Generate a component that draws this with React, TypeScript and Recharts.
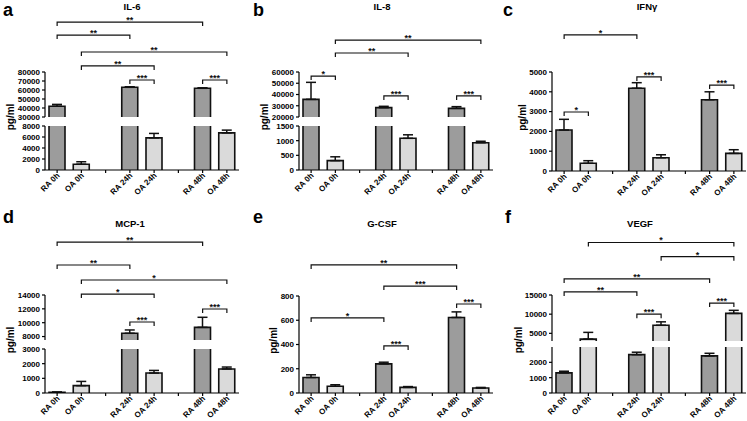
import { BarChart, Bar, XAxis, YAxis, ErrorBar, Cell, ReferenceLine } from "recharts"

const FONT = "'Liberation Sans', Arial, Helvetica, sans-serif"

// x slots: two empty slots separate the time points
const categories = ["RA 0h", "OA 0h", "gap1", "RA 24h", "OA 24h", "gap2", "RA 48h", "OA 48h"]
const groups = ["RA 0h", "OA 0h", "RA 24h", "OA 24h", "RA 48h", "OA 48h"]

const il6Values = [42000, 1050, 63000, 5850, 61900, 6750]
const il6Errors = [2000, 450, 600, 800, 500, 500]
const il8Values = [35700, 320, 28300, 1080, 27700, 930]
const il8Errors = [15100, 130, 1200, 120, 1500, 50]
const ifngValues = [2070, 390, 4180, 670, 3600, 890]
const ifngErrors = [540, 130, 280, 150, 400, 185]
const mcp1Values = [50, 500, 8470, 1360, 9330, 1640]
const mcp1Errors = [20, 290, 480, 180, 1450, 130]
const gcsfValues = [128, 56, 240, 46, 623, 41]
const gcsfErrors = [22, 12, 14, 7, 46, 5]
const vegfValues = [1310, 3500, 2500, 7100, 2420, 10200]
const vegfErrors = [110, 1750, 160, 900, 170, 800]

// [from, to, level (axis units), stars]
type Bracket = [string, string, number, string]
const il6Brackets: Bracket[] = [
  ["RA 0h", "RA 48h", 135500, "**"],
  ["RA 0h", "RA 24h", 121000, "**"],
  ["OA 0h", "OA 48h", 102200, "**"],
  ["OA 0h", "OA 24h", 86700, "**"],
  ["RA 24h", "OA 24h", 71100, "***"],
  ["RA 48h", "OA 48h", 71100, "***"],
]
const il8Brackets: Bracket[] = [
  ["OA 0h", "OA 48h", 88400, "**"],
  ["OA 0h", "OA 24h", 76900, "**"],
  ["RA 0h", "OA 0h", 56400, "*"],
  ["RA 24h", "OA 24h", 38700, "***"],
  ["RA 48h", "OA 48h", 38700, "***"],
]
const ifngBrackets: Bracket[] = [
  ["RA 0h", "RA 24h", 6870, "*"],
  ["RA 24h", "OA 24h", 4750, "***"],
  ["RA 48h", "OA 48h", 4340, "***"],
  ["RA 0h", "OA 0h", 2980, "*"],
]
const mcp1Brackets: Bracket[] = [
  ["RA 0h", "RA 48h", 21650, "**"],
  ["RA 0h", "RA 24h", 18330, "**"],
  ["OA 0h", "OA 48h", 16170, "*"],
  ["OA 0h", "OA 24h", 14140, "*"],
  ["RA 48h", "OA 48h", 11980, "***"],
  ["RA 24h", "OA 24h", 10100, "***"],
]
const gcsfBrackets: Bracket[] = [
  ["RA 0h", "RA 48h", 1056, "**"],
  ["RA 24h", "RA 48h", 882, "***"],
  ["RA 48h", "OA 48h", 734, "***"],
  ["RA 0h", "RA 24h", 619, "*"],
  ["RA 24h", "OA 24h", 388, "***"],
]
const vegfBrackets: Bracket[] = [
  ["OA 0h", "OA 48h", 28700, "*"],
  ["OA 24h", "OA 48h", 25000, "*"],
  ["RA 0h", "RA 48h", 19200, "**"],
  ["RA 0h", "RA 24h", 15800, "**"],
  ["RA 48h", "OA 48h", 12900, "***"],
  ["RA 24h", "OA 24h", 10000, "***"],
]

type Segment = { domain: [number, number]; ticks: number[]; top: number; bottom: number }

interface PanelSpec {
  letter: string
  letterX: number
  title: string
  titleX: number
  row: number
  axisX: number
  labelX: number
  values: number[]
  errors: number[]
  brackets: Bracket[]
  segments: Segment[]
}

const rowLayout = [
  { letterY: 16, titleY: 10, svgTop: 10 },
  { letterY: 223, titleY: 227, svgTop: 230 },
]

const panels: PanelSpec[] = [
  {
    letter: "a", letterX: 3, title: "IL-6", titleX: 132, row: 0, axisX: 45, labelX: 10,
    values: il6Values, errors: il6Errors, brackets: il6Brackets,
    segments: [
      { domain: [30000, 80000], ticks: [30000, 40000, 50000, 60000, 70000, 80000], top: 72, bottom: 117 },
      { domain: [0, 8000], ticks: [0, 2000, 4000, 6000, 8000], top: 126, bottom: 170 },
    ],
  },
  {
    letter: "b", letterX: 253, title: "IL-8", titleX: 382, row: 0, axisX: 299, labelX: 264,
    values: il8Values, errors: il8Errors, brackets: il8Brackets,
    segments: [
      { domain: [20000, 60000], ticks: [20000, 30000, 40000, 50000, 60000], top: 72, bottom: 117 },
      { domain: [0, 1500], ticks: [0, 500, 1000, 1500], top: 126, bottom: 170 },
    ],
  },
  {
    letter: "c", letterX: 503, title: "IFNγ", titleX: 647, row: 0, axisX: 552, labelX: 522,
    values: ifngValues, errors: ifngErrors, brackets: ifngBrackets,
    segments: [{ domain: [0, 5000], ticks: [0, 1000, 2000, 3000, 4000, 5000], top: 72, bottom: 171 }],
  },
  {
    letter: "d", letterX: 3, title: "MCP-1", titleX: 130, row: 1, axisX: 45, labelX: 10,
    values: mcp1Values, errors: mcp1Errors, brackets: mcp1Brackets,
    segments: [
      { domain: [7500, 14000], ticks: [8000, 10000, 12000, 14000], top: 295, bottom: 340 },
      { domain: [0, 3000], ticks: [0, 1000, 2000, 3000], top: 349, bottom: 393 },
    ],
  },
  {
    letter: "e", letterX: 253, title: "G-CSF", titleX: 382, row: 1, axisX: 299, labelX: 273,
    values: gcsfValues, errors: gcsfErrors, brackets: gcsfBrackets,
    segments: [{ domain: [0, 800], ticks: [0, 200, 400, 600, 800], top: 296, bottom: 393 }],
  },
  {
    letter: "f", letterX: 505, title: "VEGF", titleX: 640, row: 1, axisX: 552, labelX: 518,
    values: vegfValues, errors: vegfErrors, brackets: vegfBrackets,
    segments: [
      { domain: [3000, 15000], ticks: [5000, 10000, 15000], top: 295, bottom: 341 },
      { domain: [0, 3000], ticks: [0, 1000, 2000], top: 347, bottom: 393 },
    ],
  },
]

const bracketShape = (stars: string) => (props: any) => {
  const { x1, y1, x2 } = props
  return (
    <g>
      <path d={`M${x1},${y1 + 4}V${y1}H${x2}V${y1 + 4}`} fill="none" stroke="#111" strokeWidth={1.2} />
      <text x={(x1 + x2) / 2} y={y1 + 1} textAnchor="middle" fontSize={9} fontWeight="bold" fontFamily={FONT} fill="#111">
        {stars}
      </text>
    </g>
  )
}

// bar with an open base, so a broken axis shows no line at the cut
const openBar = (seg: Segment) => (props: any) => {
  const { x, y, width, height, payload } = props
  if (x == null || y == null || !height || payload?.v == null || payload.v < seg.domain[0]) return <g />
  const top = Math.min(y, y + height)
  const bottom = Math.max(y, y + height)
  const fill = String(payload.name).startsWith("RA") ? "#9c9c9c" : "#dadada"
  return (
    <g>
      <rect x={x} y={top} width={width} height={bottom - top} fill={fill} />
      <path d={`M${x},${bottom}V${top}H${x + width}V${bottom}`} fill="none" stroke="#111" strokeWidth={1.6} />
    </g>
  )
}

const XTick = (props: any) => {
  const { x, y, payload } = props
  if (String(payload.value).startsWith("gap")) return <g />
  const ax = x + 3
  const ay = y + 1
  return (
    <text x={ax} y={ay} transform={`rotate(-45 ${ax} ${ay})`} textAnchor="end" fontSize={8} fontWeight="bold" fontFamily={FONT} fill="#000">
      {payload.value}
    </text>
  )
}

function Panel({ spec }: { spec: PanelSpec }) {
  const layout = rowLayout[spec.row]
  const plotW = 194
  const yW = 42

  return (
    <>
      {spec.segments.map((seg, i) => {
        // error bars are not clipped, so only keep those whose bar reaches this segment
        const rows = categories.map((c) => {
          const k = groups.indexOf(c)
          if (k < 0) return { name: c }
          const v = spec.values[k]
          const e = spec.errors[k]
          const visible = v + e >= seg.domain[0] && v <= seg.domain[1]
          return { name: c, v, err: visible ? [0, e] : null }
        })
        const first = i === 0
        const last = i === spec.segments.length - 1
        const svgTop = first ? layout.svgTop : seg.top - 6
        const marginTop = seg.top - svgTop
        const plotH = seg.bottom - seg.top
        const xAxisH = 32
        const marginBottom = last ? 0 : 6
        const height = marginTop + plotH + (last ? xAxisH : marginBottom)
        return (
          <div key={i} style={{ position: "absolute", left: spec.axisX - yW, top: svgTop }}>
            <BarChart
              width={yW + plotW + 2}
              height={height}
              data={rows}
              margin={{ top: marginTop, right: 2, left: 0, bottom: marginBottom }}
            >
              <XAxis
                dataKey="name"
                hide={!last}
                height={xAxisH}
                interval={0}
                tick={<XTick />}
                tickSize={3}
                tickLine={{ stroke: "#000", strokeWidth: 1.2 }}
                axisLine={{ stroke: "#000", strokeWidth: 1.2 }}
              />
              <YAxis
                width={yW}
                type="number"
                domain={seg.domain}
                ticks={seg.ticks}
                interval={0}
                allowDataOverflow
                tickSize={3}
                tickLine={{ stroke: "#000", strokeWidth: 1.2 }}
                axisLine={{ stroke: "#000", strokeWidth: 1.2 }}
                tick={{ fontSize: 8, fontWeight: "bold", fill: "#000", fontFamily: FONT }}
              />
              <Bar dataKey="v" barSize={16} shape={openBar(seg)} isAnimationActive={false}>
                {rows.map((r) => (
                  <Cell key={r.name} fill={r.name.startsWith("RA") ? "#9c9c9c" : "#dadada"} />
                ))}
                <ErrorBar dataKey="err" width={5} stroke="#111" strokeWidth={1.5} direction="y" isAnimationActive={false} />
              </Bar>
              {first &&
                spec.brackets.map(([a, b, level, stars], k) => (
                  <ReferenceLine
                    key={k}
                    segment={[{ x: a, y: level }, { x: b, y: level }]}
                    ifOverflow="visible"
                    shape={bracketShape(stars)}
                  />
                ))}
            </BarChart>
          </div>
        )
      })}
    </>
  )
}

export default function App() {
  return (
    <div style={{ position: "absolute", left: 0, top: 0, width: 747, height: 421, background: "#fff", overflow: "hidden" }}>
      <svg width={747} height={421} style={{ position: "absolute", left: 0, top: 0 }}>
        {panels.map((p) => {
          const layout = rowLayout[p.row]
          const segs = p.segments
          const midY = (segs[0].top + segs[segs.length - 1].bottom) / 2 - 4
          return (
            <g key={p.letter} fontFamily={FONT} fontWeight="bold" fill="#000">
              <text x={p.letterX} y={layout.letterY} fontSize={18}>{p.letter}</text>
              <text x={p.titleX} y={layout.titleY} fontSize={9.5} textAnchor="middle">{p.title}</text>
              <text x={p.labelX} y={midY} fontSize={10} textAnchor="middle" dominantBaseline="central" transform={`rotate(-90 ${p.labelX} ${midY})`}>
                pg/ml
              </text>
            </g>
          )
        })}
      </svg>
      {panels.map((p) => (
        <Panel key={p.letter} spec={p} />
      ))}
    </div>
  )
}
